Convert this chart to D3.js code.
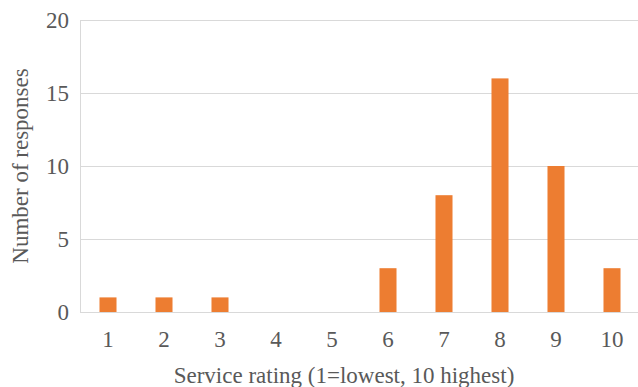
<!DOCTYPE html>
<html>
<head>
<meta charset="utf-8">
<script src="https://cdn.jsdelivr.net/npm/d3@7"></script>
<style>
  body { margin: 0; background: #fff; }
  text { font-family: "Liberation Serif", "Times New Roman", serif; fill: #595959; }
</style>
</head>
<body>
<div class="viewbox"></div>
<script>
  // values
  const ratings = ["1", "2", "3", "4", "5", "6", "7", "8", "9", "10"];
  const responses = [1, 1, 1, 0, 0, 3, 8, 16, 10, 3];
  const yTicks = [0, 5, 10, 15, 20];

  const svg_width = 638;
  const svg_height = 387;
  // plot area edges
  const plotLeft = 80, plotRight = 640, plotTop = 20, plotBottom = 312;
  const fontSize = "23px";

  let svg = d3.select(".viewbox")
    .append("svg")
    .attr("width", svg_width)
    .attr("height", svg_height)
    .style("display", "block");

  let x = d3.scaleBand()
    .domain(ratings)
    .range([plotLeft, plotRight])
    .paddingInner(0.696)
    .paddingOuter(0.348);

  let y = d3.scaleLinear().domain([0, 20]).range([plotBottom, plotTop]);

  // gridlines
  svg.selectAll("line.grid")
    .data(yTicks)
    .enter()
    .append("line")
    .attr("class", "grid")
    .attr("x1", plotLeft)
    .attr("x2", svg_width)
    .attr("y1", d => y(d) + 0.5)
    .attr("y2", d => y(d) + 0.5)
    .attr("stroke", "#d9d9d9")
    .attr("stroke-width", 1);

  // left axis line
  svg.append("line")
    .attr("x1", plotLeft + 0.5).attr("x2", plotLeft + 0.5)
    .attr("y1", y(20)).attr("y2", y(0))
    .attr("stroke", "#d9d9d9");

  // bars
  svg.selectAll("rect.bar")
    .data(responses)
    .enter()
    .append("rect")
    .attr("class", "bar")
    .attr("x", (d, i) => x(ratings[i]))
    .attr("width", x.bandwidth())
    .attr("y", d => y(d))
    .attr("height", d => y(0) - y(d))
    .attr("fill", "#ed7d31");

  // y tick labels
  svg.selectAll("text.ytick")
    .data(yTicks)
    .enter()
    .append("text")
    .attr("class", "ytick")
    .attr("x", 69)
    .attr("y", d => y(d) + 8)
    .attr("text-anchor", "end")
    .style("font-size", fontSize)
    .text(d => d);

  // x tick labels
  svg.selectAll("text.xtick")
    .data(ratings)
    .enter()
    .append("text")
    .attr("class", "xtick")
    .attr("x", d => x(d) + x.bandwidth() / 2)
    .attr("y", 347)
    .attr("text-anchor", "middle")
    .style("font-size", fontSize)
    .text(d => d);

  // axis titles
  svg.append("text")
    .attr("x", 344)
    .attr("y", 383)
    .attr("text-anchor", "middle")
    .style("font-size", fontSize)
    .text("Service rating (1=lowest, 10 highest)");

  svg.append("text")
    .attr("transform", "translate(28," + (plotTop + plotBottom) / 2 + ") rotate(-90)")
    .attr("text-anchor", "middle")
    .style("font-size", fontSize)
    .text("Number of responses");
</script>
</body>
</html>
